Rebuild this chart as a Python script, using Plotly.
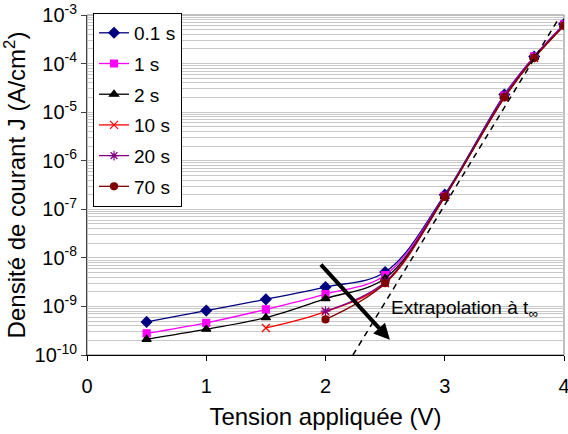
import math
import plotly.graph_objects as go

# Tension appliquee (V) and current density J (A/cm2) for each stress time
V = [0.5, 1, 1.5, 2, 2.5, 3, 3.5, 3.75, 4]
J_01s = [4.8e-10, 8.2e-10, 1.4e-9, 2.5e-9, 5.1e-9, 2.0e-7, 2.3e-5, 1.4e-4, 6.5e-4]
J_1s = [2.8e-10, 4.6e-10, 8.7e-10, 1.8e-9, 4.4e-9, 1.9e-7, 2.2e-5, 1.4e-4, 6.4e-4]
J_2s = [2.1e-10, 3.4e-10, 5.9e-10, 1.45e-9, 3.8e-9, 1.85e-7, 2.1e-5, 1.35e-4, 6.2e-4]
V_10s = [1.5, 2, 2.5, 3, 3.5, 3.75, 4]
J_10s = [3.6e-10, 7.8e-10, 3.0e-9, 1.8e-7, 2.0e-5, 1.3e-4, 6.0e-4]
V_late = [2, 2.5, 3, 3.5, 3.75, 4]
J_20s = [8.0e-10, 3.2e-9, 1.85e-7, 2.1e-5, 1.35e-4, 6.2e-4]
J_70s = [5.4e-10, 3.0e-9, 1.8e-7, 2.0e-5, 1.3e-4, 6.0e-4]

# extrapolation line (t -> infinity)
V_ext = [2.23, 3.95]
J_ext = [1e-10, 8e-4]

y_ticks = [10.0 ** e for e in range(-10, -2)]
y_labels = ["10<sup>%d</sup>" % e for e in range(-10, -2)]

FONT = "Liberation Sans, Arial, sans-serif"

series = [
    ("0.1 s", V, J_01s, "#000080", "diamond", 8),
    ("1 s", V, J_1s, "#FF00FF", "square", 7),
    ("2 s", V, J_2s, "#000000", "triangle-up", 8),
    ("10 s", V_10s, J_10s, "#FF0000", "x-thin-open", 8),
    ("20 s", V_late, J_20s, "#800080", "asterisk-open", 8),
    ("70 s", V_late, J_70s, "#800000", "circle", 7),
]

fig = go.Figure()
for name, xs, ys, col, sym, sz in series:
    fig.add_trace(go.Scatter(
        x=xs, y=ys, name=name, legendgroup=name,
        mode="lines+markers",
        line=dict(color=col, width=1.3, shape="spline", smoothing=1),
        marker=dict(symbol=sym, size=sz, color=col, line=dict(color=col, width=1.2)),
    ))

fig.add_trace(go.Scatter(
    x=V_ext, y=J_ext, mode="lines", showlegend=False,
    line=dict(color="black", width=1.5, dash="6px,5px"),
))

fig.add_shape(type="rect", xref="paper", yref="paper", x0=0, x1=1, y0=0, y1=1,
              line=dict(color="#808080", width=1), layer="below")

fig.add_annotation(
    x=2.54, y=math.log10(2.05e-10), ax=1.95, ay=math.log10(7.8e-9),
    xref="x", yref="y", axref="x", ayref="y",
    showarrow=True, arrowhead=2, arrowsize=0.8, arrowwidth=4, arrowcolor="black", text="",
)
fig.add_annotation(
    x=2.53, y=math.log10(9.0e-10), xref="x", yref="y", showarrow=False,
    xanchor="left", yanchor="middle",
    text="Extrapolation à t<sub>∞</sub>", font=dict(size=19, color="black", family=FONT),
)

fig.update_layout(
    width=568, height=434,
    margin=dict(l=87, r=4, t=15, b=79),
    paper_bgcolor="white", plot_bgcolor="white",
    font=dict(family=FONT, size=20, color="black"),
    legend=dict(
        x=0.0126, y=1.006, xanchor="left", yanchor="top",
        bgcolor="white", bordercolor="black", borderwidth=1,
        font=dict(size=19), tracegroupgap=3, traceorder="grouped",
    ),
)

fig.update_xaxes(
    range=[0, 4], dtick=1, tick0=0, showgrid=False, zeroline=False,
    showline=True, linecolor="black", linewidth=1, automargin=False,
    ticks="outside", ticklen=5, tickcolor="black", ticklabelstandoff=8,
    ticklabeloverflow="allow",
    title=dict(text="Tension appliquée (V)", standoff=12),
)
fig.update_yaxes(
    type="log", range=[-10, -3], automargin=False,
    tickmode="array", tickvals=y_ticks, ticktext=y_labels,
    showgrid=True, gridcolor="#C8C8C8", gridwidth=1,
    minor=dict(tickmode="array",
               tickvals=[k * 10.0 ** e for e in range(-10, -3) for k in range(2, 10)],
               showgrid=True, gridcolor="#C8C8C8", gridwidth=1, ticks=""),
    showline=True, linecolor="#404040", linewidth=1, zeroline=False,
    ticks="outside", ticklen=5, tickcolor="#404040", ticklabeloverflow="allow",
    title=dict(text="Densité de courant J (A/cm<sup>2</sup>)", standoff=4),
)

# drop the default 8px page margin so the figure fills the window
fig.write_html("out.html", config={"displayModeBar": False},
               post_script="document.body.style.margin='0';")
